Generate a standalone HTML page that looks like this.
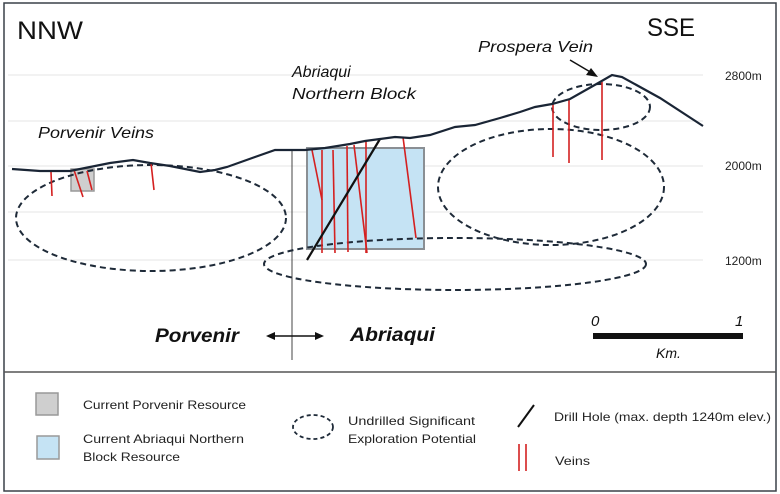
<!DOCTYPE html>
<html><head><meta charset="utf-8"><style>
html,body{margin:0;padding:0;background:#fff;}
svg{display:block;font-family:"Liberation Sans",sans-serif;}
</style></head><body>
<svg width="780" height="494" viewBox="0 0 780 494" xmlns="http://www.w3.org/2000/svg">
<rect x="4" y="3" width="772" height="488" fill="#fff" stroke="#3a4048" stroke-width="1.5"/>
<line x1="4" y1="372" x2="776" y2="372" stroke="#555" stroke-width="1.5"/>
<g stroke="#e6e6e6" stroke-width="1">
<line x1="8" y1="75" x2="703" y2="75"/><line x1="8" y1="121" x2="703" y2="121"/>
<line x1="8" y1="166" x2="703" y2="166"/><line x1="8" y1="212" x2="703" y2="212"/>
<line x1="8" y1="260" x2="703" y2="260"/>
</g>
<rect x="307" y="148" width="117" height="101" fill="#c5e3f4" stroke="#8a8f94" stroke-width="2"/>
<rect x="71" y="169" width="23" height="22" fill="#cfcfcf" stroke="#999" stroke-width="1.5"/>
<line x1="292" y1="150" x2="292" y2="360" stroke="#444" stroke-width="1"/>
<g fill="none" stroke="#1e2a38" stroke-width="2" stroke-dasharray="6,4">
<ellipse cx="151" cy="218" rx="135" ry="53"/>
<ellipse cx="551" cy="187" rx="113" ry="58"/>
<ellipse cx="601" cy="107" rx="49" ry="23"/>
<ellipse cx="455" cy="264" rx="191" ry="26"/>
</g>
<g stroke="#d42020" stroke-width="1.6">
<line x1="51" y1="172" x2="52" y2="196"/><line x1="74" y1="170" x2="83" y2="197"/>
<line x1="87" y1="171" x2="92" y2="190"/><line x1="151" y1="163" x2="154" y2="190"/>
<line x1="312" y1="150" x2="322" y2="200"/><line x1="322" y1="150" x2="322" y2="253"/>
<line x1="333" y1="150" x2="335" y2="253"/><line x1="347" y1="146" x2="348" y2="252"/>
<line x1="354" y1="145" x2="367" y2="253"/><line x1="366" y1="141" x2="366" y2="253"/>
<line x1="403" y1="137" x2="416" y2="238"/>
<line x1="553" y1="103" x2="553" y2="157"/><line x1="569" y1="100" x2="569" y2="163"/>
<line x1="602" y1="82" x2="602" y2="160"/>
</g>
<line x1="307" y1="260" x2="380" y2="139" stroke="#111" stroke-width="2.2"/>
<polyline fill="none" stroke="#1a2535" stroke-width="2.2" points="12,169 40,171 70,171 85,168 110,163 133,160 150,163 170,166 200,172 215,170 227,167 255,157 275,150 305,150 325,148 350,144 365,141 380,139 395,137 410,138 430,135 455,127 475,125 500,118 520,112 535,107 552,104 570,99 600,82 612,75 622,77 660,98 703,126"/>
<line x1="570" y1="60" x2="592" y2="73" stroke="#111" stroke-width="1.5"/>
<polygon points="598,77 586,75 591,68" fill="#111"/>
<text x="17" y="39" font-size="25" fill="#111" textLength="66" lengthAdjust="spacingAndGlyphs">NNW</text>
<text x="647" y="36" font-size="25" fill="#111" textLength="48" lengthAdjust="spacingAndGlyphs">SSE</text>
<text x="478" y="52" font-size="16" font-style="italic" fill="#111" textLength="115" lengthAdjust="spacingAndGlyphs">Prospera Vein</text>
<text x="292" y="77" font-size="16" font-style="italic" fill="#111">Abriaqui</text>
<text x="292" y="99" font-size="16" font-style="italic" fill="#111" textLength="124" lengthAdjust="spacingAndGlyphs">Northern Block</text>
<text x="38" y="138" font-size="16" font-style="italic" fill="#111" textLength="116" lengthAdjust="spacingAndGlyphs">Porvenir Veins</text>
<g font-size="12" fill="#222">
<text x="725" y="80">2800m</text><text x="725" y="170">2000m</text><text x="725" y="265">1200m</text>
</g>
<text x="155" y="342" font-size="19" font-weight="bold" font-style="italic" fill="#111" textLength="84" lengthAdjust="spacingAndGlyphs">Porvenir</text>
<text x="350" y="341" font-size="19" font-weight="bold" font-style="italic" fill="#111" textLength="85" lengthAdjust="spacingAndGlyphs">Abriaqui</text>
<line x1="272" y1="336" x2="318" y2="336" stroke="#111" stroke-width="1.5"/>
<polygon points="266,336 275,332 275,340" fill="#111"/><polygon points="324,336 315,332 315,340" fill="#111"/>
<rect x="593" y="333" width="150" height="6" fill="#111"/>
<text x="591" y="326" font-size="15" font-style="italic" fill="#111">0</text>
<text x="735" y="326" font-size="15" font-style="italic" fill="#111">1</text>
<text x="656" y="358" font-size="14" font-style="italic" fill="#111">Km.</text>
<rect x="36" y="393" width="22" height="22" fill="#cfcfcf" stroke="#999" stroke-width="1.5"/>
<rect x="37" y="436" width="22" height="23" fill="#c5e3f4" stroke="#999" stroke-width="1.5"/>
<ellipse cx="313" cy="427" rx="20" ry="12" fill="none" stroke="#1e2a38" stroke-width="1.8" stroke-dasharray="4,3"/>
<line x1="518" y1="427" x2="534" y2="405" stroke="#111" stroke-width="2"/>
<line x1="519" y1="444" x2="519" y2="471" stroke="#d42020" stroke-width="1.6"/>
<line x1="526" y1="444" x2="526" y2="471" stroke="#d42020" stroke-width="1.6"/>
<g font-size="12" fill="#222">
<text x="83" y="409" textLength="163" lengthAdjust="spacingAndGlyphs">Current Porvenir Resource</text>
<text x="83" y="443" textLength="161" lengthAdjust="spacingAndGlyphs">Current Abriaqui Northern</text>
<text x="83" y="461" textLength="97" lengthAdjust="spacingAndGlyphs">Block Resource</text>
<text x="348" y="425" textLength="127" lengthAdjust="spacingAndGlyphs">Undrilled Significant</text>
<text x="348" y="443" textLength="128" lengthAdjust="spacingAndGlyphs">Exploration Potential</text>
<text x="554" y="421" textLength="217" lengthAdjust="spacingAndGlyphs">Drill Hole (max. depth 1240m elev.)</text>
<text x="555" y="465" textLength="35" lengthAdjust="spacingAndGlyphs">Veins</text>
</g>
</svg>
</body></html>
